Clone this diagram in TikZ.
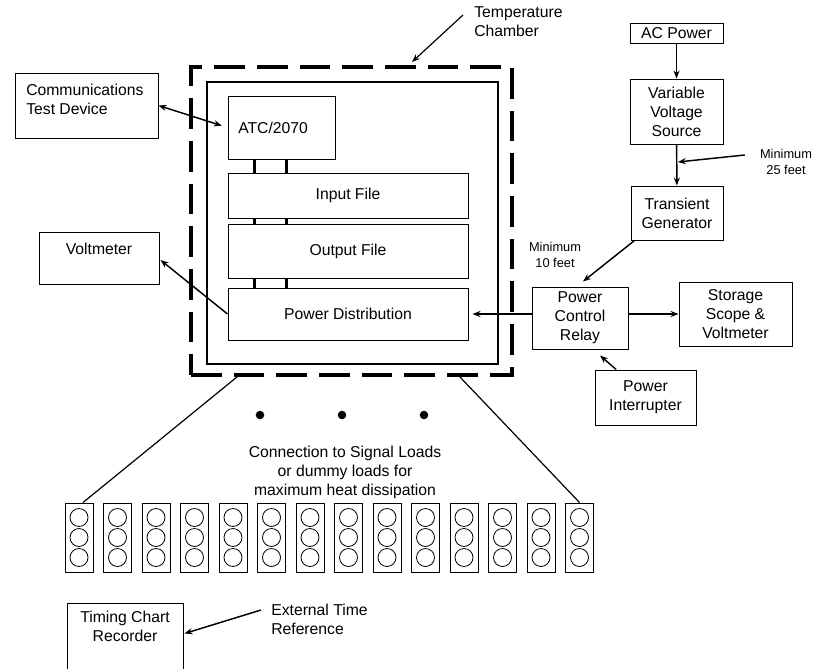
\documentclass[tikz,border=0pt]{standalone}
\usepackage{fontspec}
\setmainfont{Liberation Sans}
\usetikzlibrary{arrows.meta}

\begin{document}
\begin{tikzpicture}[x=0.75pt,y=-0.75pt,
  every node/.style={font=\fontsize{11.8}{14.2}\selectfont, inner sep=0pt, align=center},
  blk/.style={draw, line width=0.75pt},
  small/.style={font=\fontsize{9.6}{11.4}\selectfont},
  arr/.style={line width=1.1pt, -{Stealth[length=6pt,width=4.6pt]}},
  arrs/.style={line width=1.1pt, {Stealth[length=6pt,width=4.6pt]}-{Stealth[length=6pt,width=4.6pt]}},
  bus/.style={line width=1.6pt}]
\clip (0,0) rectangle (814,668);

% chamber
\node[draw, dash pattern=on 23pt off 9pt, line width=2.6pt, minimum width=240.75pt, minimum height=231pt] (chamber) at (351.5,221) {};
\node[draw, line width=1.9pt, minimum width=218.25pt, minimum height=211.5pt] (inner) at (352.5,223) {};
\node[anchor=north west, align=left] (tclbl) at (474,6) {Temperature\\Chamber};
\draw[line width=0.9pt, -{Stealth[length=6pt,width=4.6pt]}] ([shift={(-11,9)}]tclbl.north west) -- (412,62);

\node[blk, minimum width=80.25pt, minimum height=47.25pt] (atc) at (281.5,127.5) {};
\node[anchor=west] (atctxt) at (238,128) {ATC/2070};
\node[blk, minimum width=180pt, minimum height=33.75pt] (inpfile) at (348,195.5) {Input File};
\node[blk, minimum width=180pt, minimum height=40.5pt] (outfile) at (348,251) {Output File};
\node[blk, minimum width=180pt, minimum height=39pt] (pwrdist) at (348,314) {Power Distribution};
\foreach \a/\b in {atc/inpfile,inpfile/outfile,outfile/pwrdist}
  \foreach \dx in {20.25,44.25}
    \draw[bus] ([xshift=\dx pt]\a.south west) -- ([xshift=\dx pt]\b.north west);

% left side
\node[blk, minimum width=107.25pt, minimum height=48.75pt] (ctd) at (86.5,105.5) {};
\node[anchor=west, align=left] (ctdtxt) at (26,99) {Communications\\Test Device};
\draw[arrs, shorten >=4.5pt] (ctd.east) -- (atc.west);
\node[blk, minimum width=90pt, minimum height=39pt] (voltm) at (99,258) {};
\node (vmtxt) at (99,249) {Voltmeter};
\draw[arr] (pwrdist.west) -- ([shift={(1,2)}]voltm.east);

% power chain
\node[blk, minimum width=69.75pt, minimum height=15pt] (acpwr) at (676.5,33) {AC Power};
\node[blk, minimum width=69.75pt, minimum height=48.75pt] (vvs) at (676.5,111.5) {Variable\\Voltage\\Source};
\node[blk, minimum width=69pt, minimum height=40.5pt] (trgen) at (677,213) {Transient\\Generator};
\draw[arr] (acpwr) -- (vvs);
\draw[arr] (vvs) -- (trgen);
\node[small] (min25) at (786,162) {Minimum\\25 feet};
\draw[arr] ([shift={(-15,-7)}]min25.west) -- ([xshift=1pt]vvs.south |- min25.west);

\node[blk, minimum width=72pt, minimum height=46.5pt] (pcr) at (580,318) {Power\\Control\\Relay};
\node[small] (min10) at (555,255) {Minimum\\10 feet};
\draw[arr] ([xshift=3pt]trgen.south west) -- ([shift={(3,-5)}]pcr.north);
\draw[arr, shorten >=3pt] (pcr.west |- pwrdist.east) -- (pwrdist.east);
\node[blk, minimum width=84.75pt, minimum height=48pt] (ssv) at (735.5,314) {Storage\\Scope \&\\Voltmeter};
\draw[arr] (pcr.east |- ssv.west) -- (ssv.west);
\node[blk, minimum width=75.75pt, minimum height=41.25pt] (pint) at (645.5,397.5) {Power\\Interrupter};
\draw[arr] ([xshift=-22pt]pint.north) -- ([shift={(20,6)}]pcr.south);

% loads
\foreach \x in {260,342,424} \fill (\x,415) circle (3.2pt);
\node (conntxt) at (345,472) {Connection to Signal Loads\\or dummy loads for\\maximum heat dissipation};
\foreach \i in {1,...,14} {
  \node[blk, minimum width=21pt, minimum height=51.75pt] (ld\i) at ({79+38.5*(\i-1)},537.5) {};
  \foreach \dy in {-15,0,15}
    \draw[line width=0.6pt] ([yshift=\dy pt]ld\i.center) circle (6.75pt);
}
\draw[line width=0.9pt] ([xshift=36pt]chamber.south west) -- ([xshift=3pt]ld1.north);
\draw[line width=0.9pt] ([xshift=-40.5pt]chamber.south east) -- (ld14.north);

% timing
\node[blk, minimum width=87pt, minimum height=60pt] (tcr) at (125,643) {};
\node (tcrtxt) at (125,626) {Timing Chart\\Recorder};
\node[anchor=west, align=left] (etr) at (271,619) {External Time\\Reference};
\draw[arr] ([shift={(-10,-9)}]etr.west) -- ([shift={(1,31)}]tcr.north east);
\end{tikzpicture}
\end{document}
